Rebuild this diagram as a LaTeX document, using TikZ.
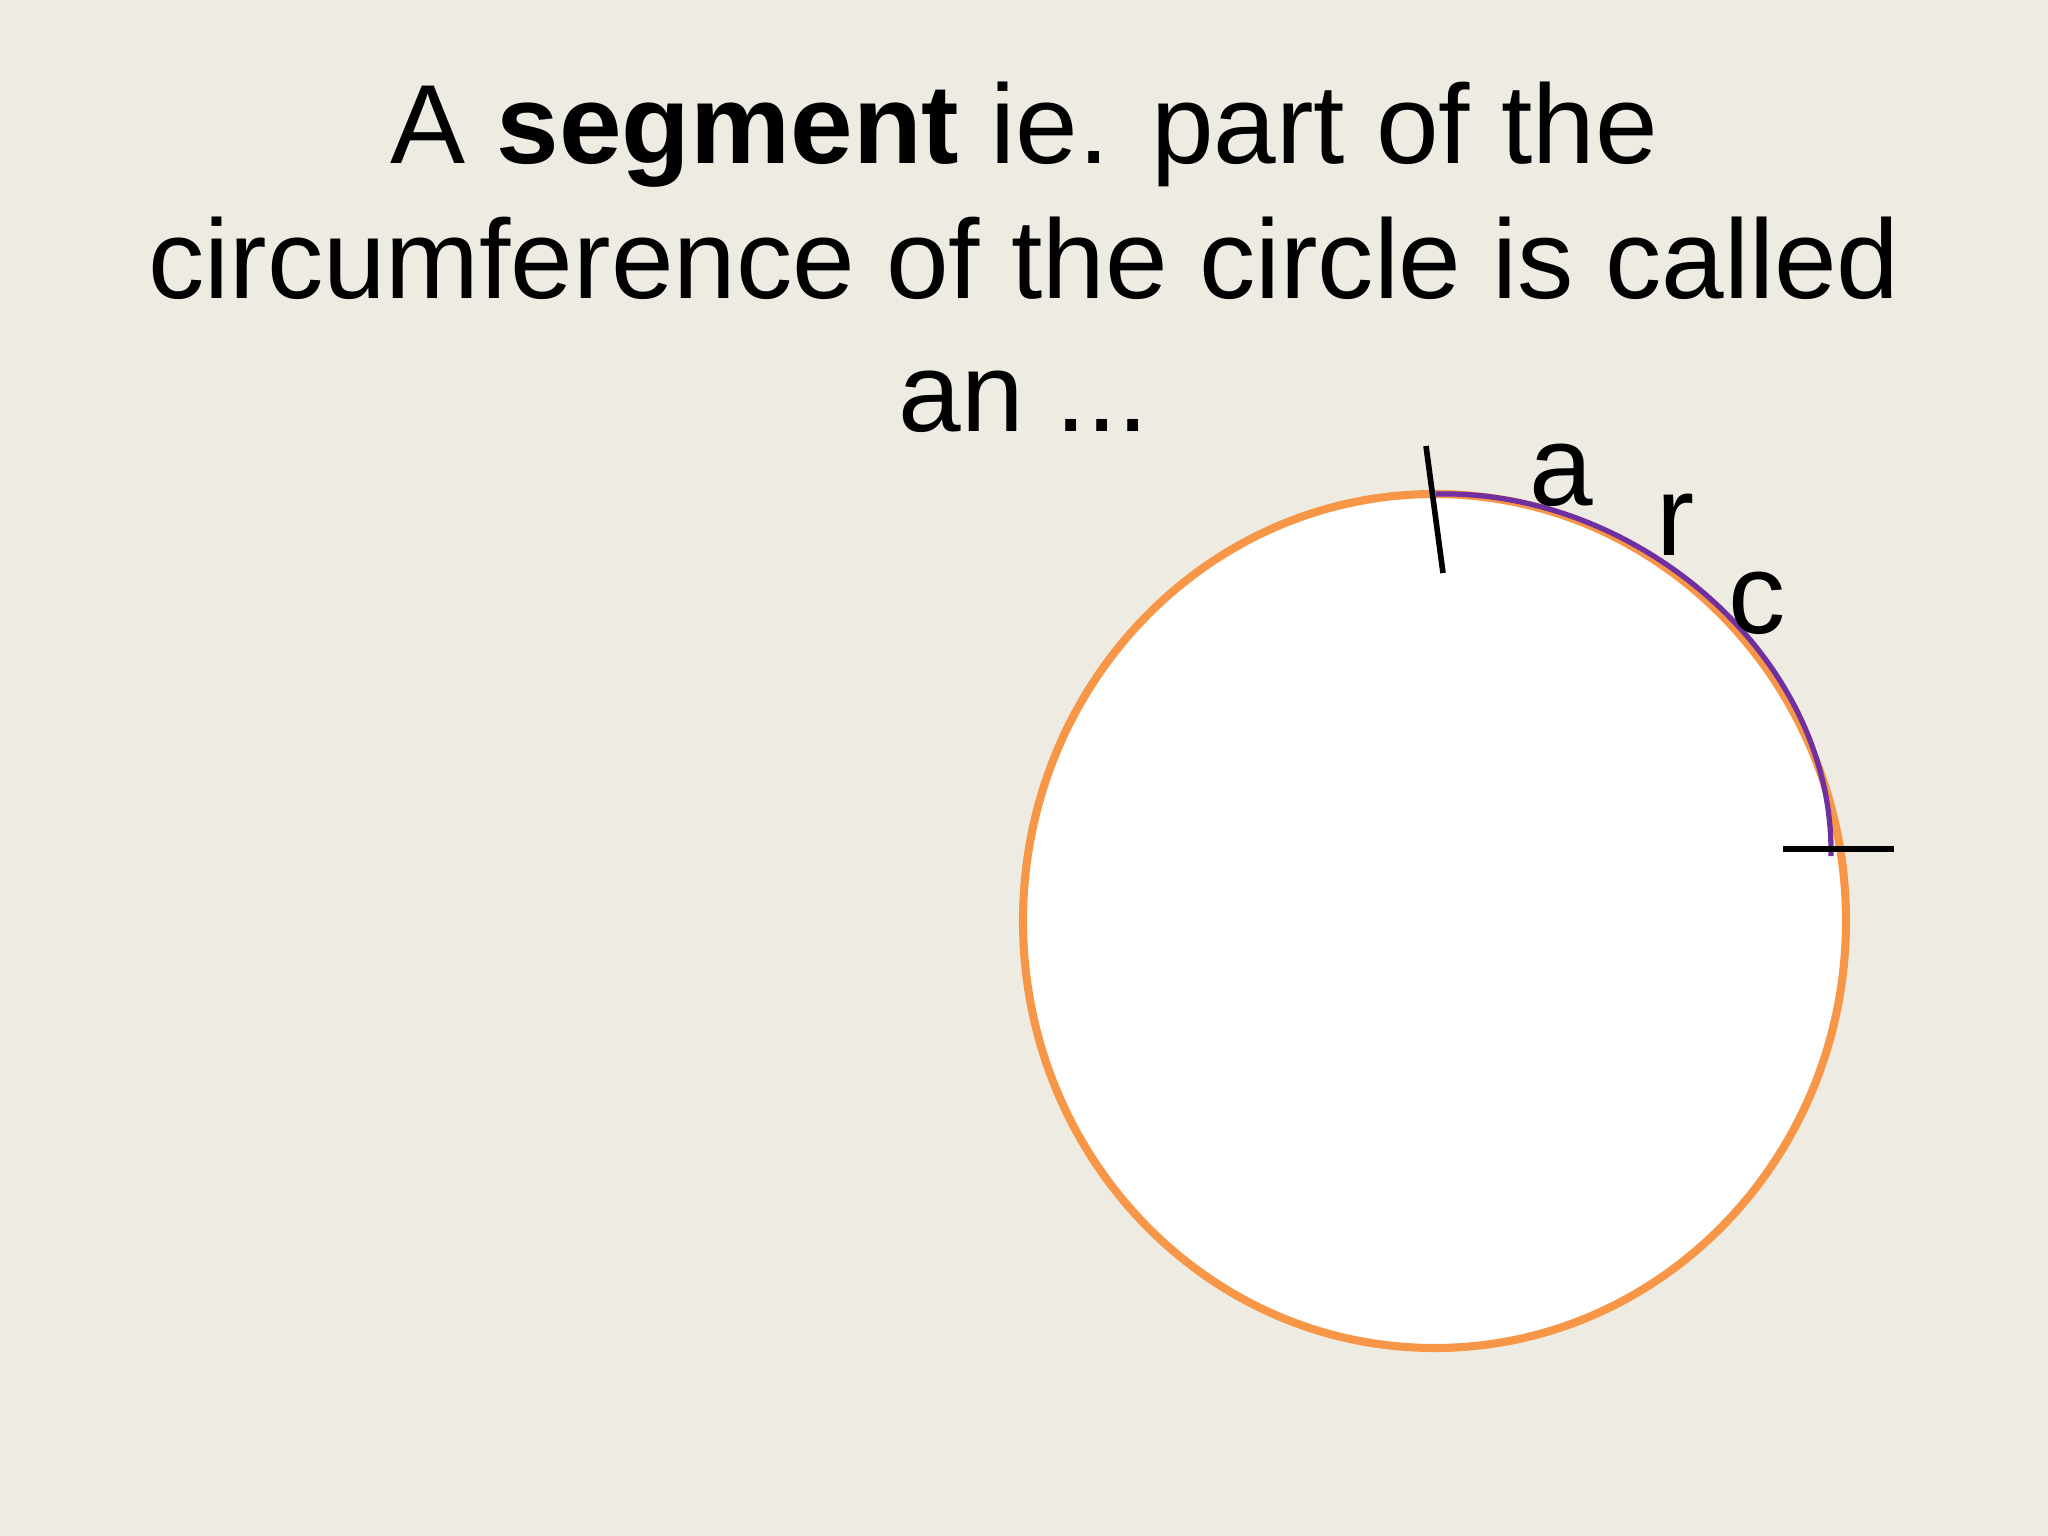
\documentclass[tikz,border=0pt]{standalone}
\usepackage{fontspec}
\setmainfont{Liberation Sans}
\definecolor{bgbeige}{HTML}{EEEBE3}
\definecolor{ringorange}{HTML}{F79646}
\definecolor{arcpurple}{HTML}{7030A0}
\begin{document}
\begin{tikzpicture}[x=0.01cm,y=-0.01cm,
  titletext/.style={anchor=base,inner sep=0pt,font=\fontsize{32}{38}\selectfont},
  arcletter/.style={anchor=base,inner sep=0pt,font=\fontsize{32.5}{38}\selectfont},
  tickline/.style={draw=black,line width=1.6pt},
  ring/.style={draw=ringorange,line width=2.3pt,fill=white},
  arcline/.style={draw=arcpurple,line width=1.5pt}]
\fill[bgbeige] (0,0) rectangle (2048,1536);
\useasboundingbox (0,0) rectangle (2048,1536);
% title
\node[titletext] (l1) at (1024,163) {A \textbf{segment} ie. part of the};
\node[titletext] (l2) at (1024,298) {circumference of the circle is called};
\node[titletext] (l3) at (1024,431) {an ...};
% circle
\draw[ring] (1434.5,921) ellipse [x radius=411.5, y radius=427];
% purple arc
\coordinate (arcA) at (1436,494);
\coordinate (arcB) at (1831,856);
\draw[arcline] (arcA) .. controls (1635,489) and (1834,655) .. (arcB);
% ticks
\coordinate (t1a) at (1426,446);
\coordinate (t1b) at (1443,573);
\draw[tickline] (t1a) -- (t1b);
\coordinate (t2a) at (1783,849);
\coordinate (t2b) at (1894,849);
\draw[tickline] (t2a) -- (t2b);
% letters
\node[arcletter] (la) at (1561,505) {a};
\node[arcletter] (lr) at (1676,555) {r};
\node[arcletter] (lc) at (1757,633) {c};
\end{tikzpicture}
\end{document}
